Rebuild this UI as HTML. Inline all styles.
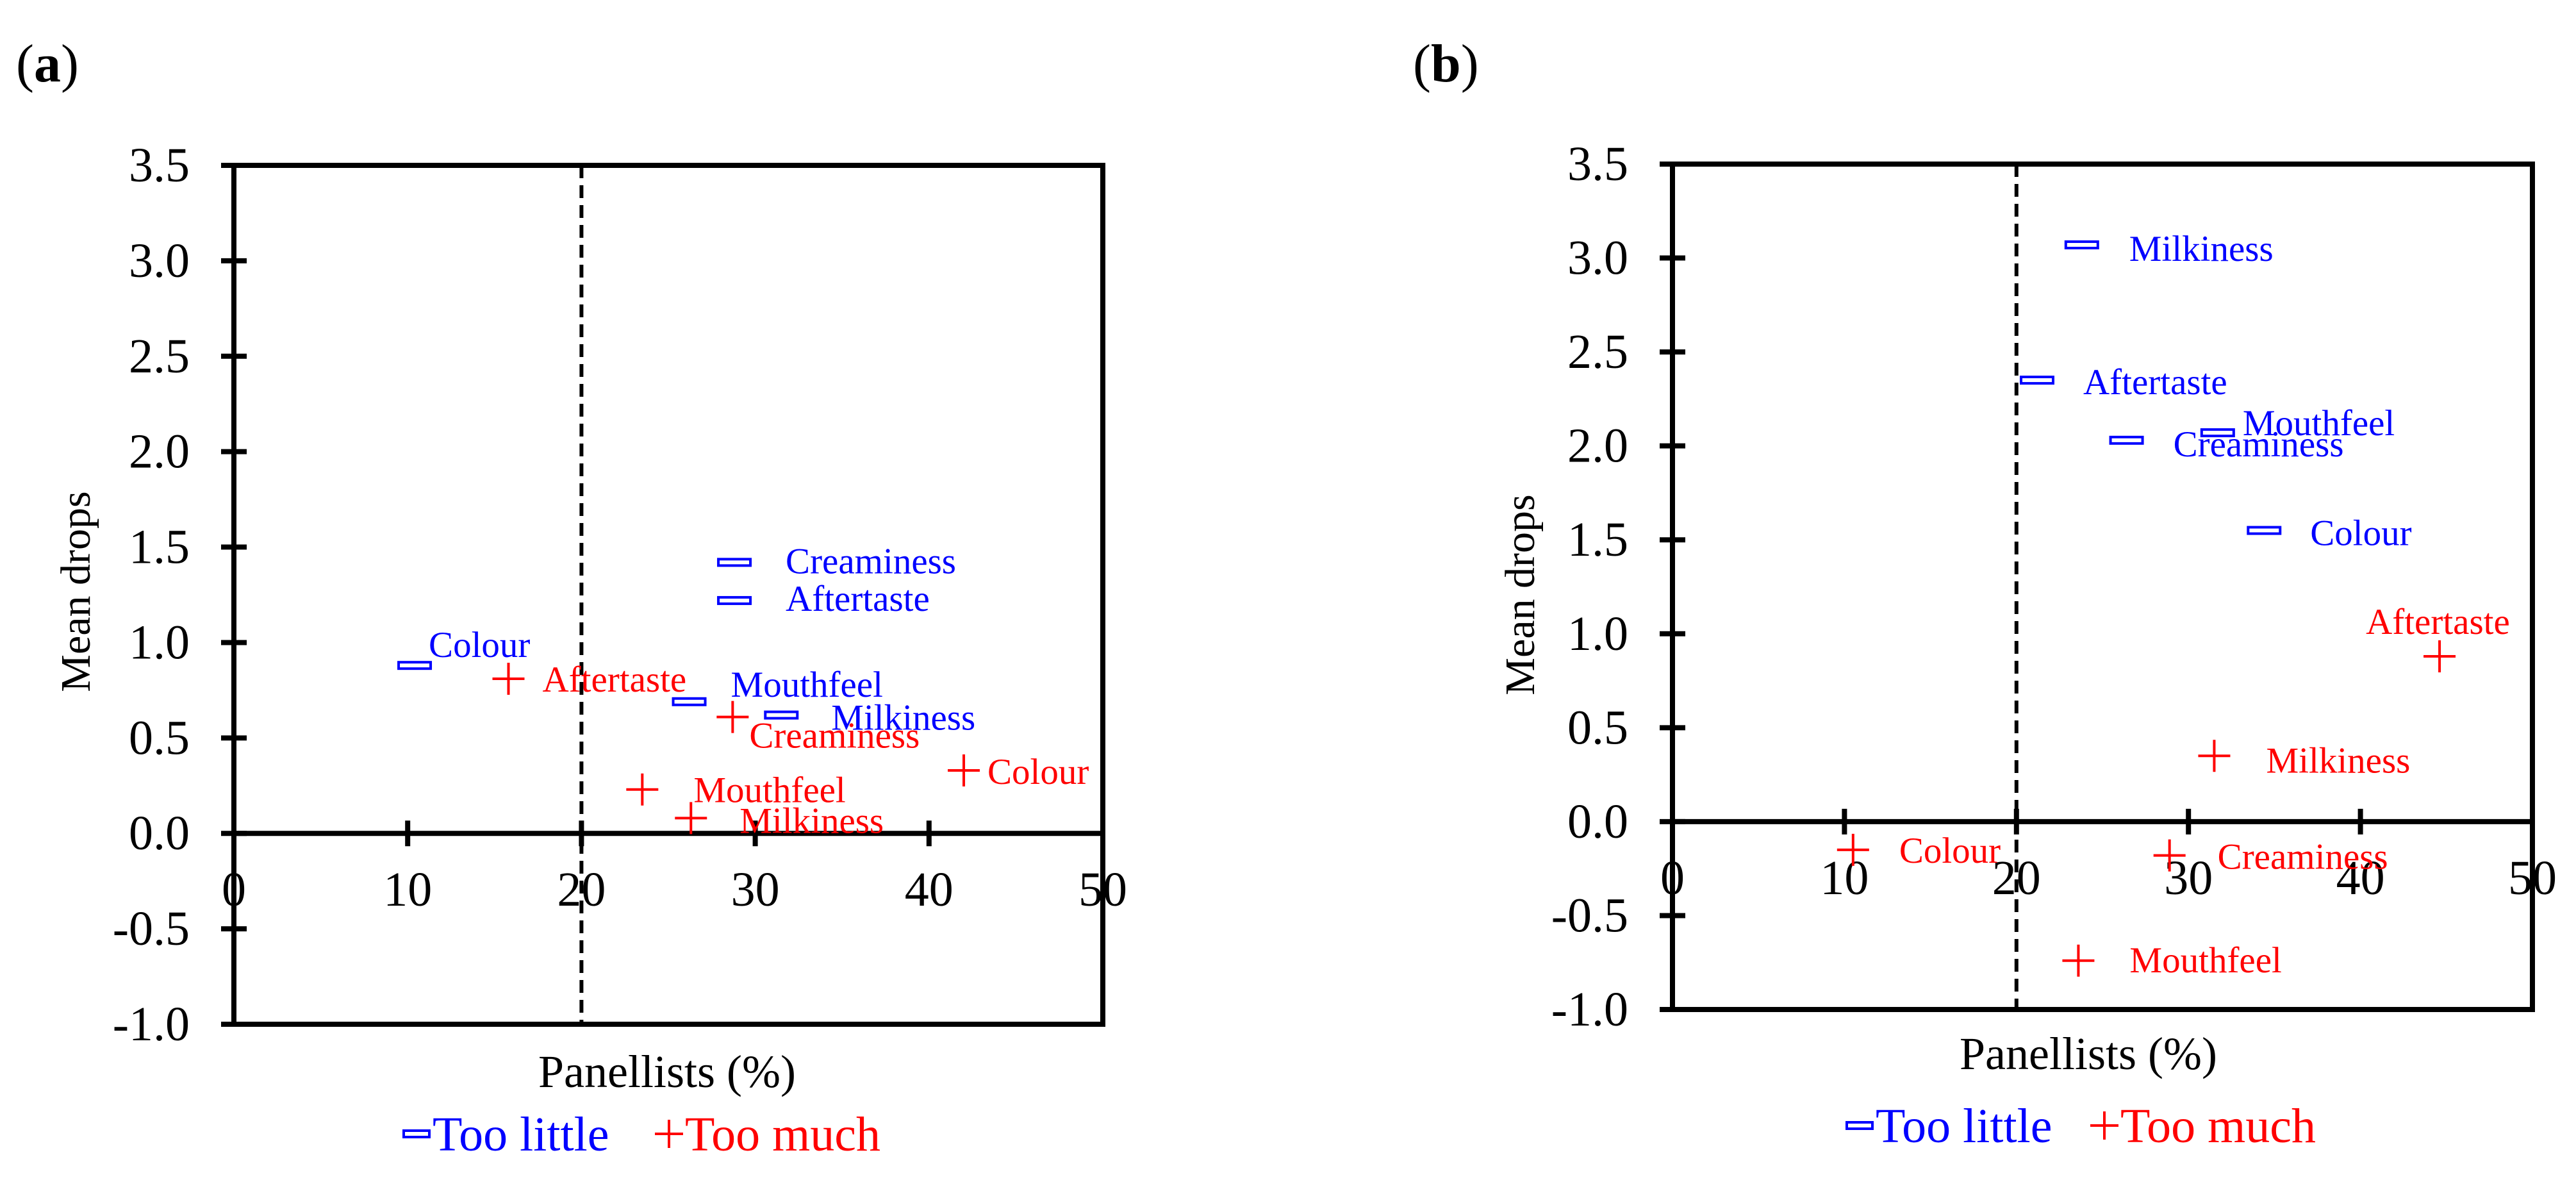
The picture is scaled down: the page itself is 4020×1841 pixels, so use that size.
<!DOCTYPE html>
<html><head><meta charset="utf-8"><style>
html,body{margin:0;padding:0;background:#fff;}
svg, svg text, svg tspan{font-family:"Liberation Serif","Times New Roman",serif !important;}
</style></head><body>
<svg id="fig" width="4020" height="1836" viewBox="0 0 4020 1836" xmlns="http://www.w3.org/2000/svg" font-family="Liberation Serif, serif"></svg>
<script>
const categories = ["Colour","Creaminess","Aftertaste","Mouthfeel","Milkiness"];
// Panel a
const aLittleX = [10.4, 28.8, 28.8, 26.2, 31.5];
const aLittleY = [0.88, 1.42, 1.22, 0.69, 0.62];
const aMuchX = [42.0, 28.7, 15.8, 23.5, 26.3];
const aMuchY = [0.33, 0.61, 0.81, 0.23, 0.08];
// Panel b
const bLittleX = [34.4, 26.4, 21.2, 31.7, 23.8];
const bLittleY = [1.55, 2.03, 2.35, 2.07, 3.07];
const bMuchX = [10.5, 28.9, 44.6, 23.6, 31.5];
const bMuchY = [-0.15, -0.18, 0.88, -0.74, 0.35];
const xTicks = [0,10,20,30,40,50];
const yTicks = [-1.0,-0.5,0.0,0.5,1.0,1.5,2.0,2.5,3.0,3.5];
const xTickLabels = ["0","10","20","30","40","50"];
const yTickLabels = ["-1.0","-0.5","0.0","0.5","1.0","1.5","2.0","2.5","3.0","3.5"];
const threshold = 20;

// label offsets (layout, px) per category
const aLittleOff = [[22,-33],[80,-3],[80,-4],[65,-28],[78,3]];
const aMuchOff = [[37,1],[26,28],[53,0],[80,0],[76,3]];
const bLittleOff = [[72,3],[73,5],[72,2],[39,-16],[74,5]];
const bMuchOff = [[72,0],[75,1],[-115,-55],[80,-2],[81,6]];

const NS="http://www.w3.org/2000/svg";
const svg=document.getElementById('fig');
function el(tag,attrs,parent){const e=document.createElementNS(NS,tag);for(const k in attrs)e.setAttribute(k,attrs[k]);(parent||svg).appendChild(e);return e;}
function txt(s,attrs,parent){attrs['font-family']='Liberation Serif, serif';const e=el('text',attrs,parent);e.textContent=s;return e;}

function panel(cfg){
  const g=el('g',{});
  
  
  const X=v=>cfg.L+(v-0)/50*(cfg.R-cfg.L);
  const Y=v=>cfg.T+(3.5-v)/4.5*(cfg.B-cfg.T);
  const frame=el('rect',{x:cfg.L,y:cfg.T,width:cfg.R-cfg.L,height:cfg.B-cfg.T,fill:'none',stroke:'#000','stroke-width':8},g);
  
  
  const zl=el('line',{x1:cfg.L,x2:cfg.R,y1:Y(0),y2:Y(0),stroke:'#000','stroke-width':8},g);
  
  
  const dl=el('line',{x1:X(threshold),x2:X(threshold),y1:cfg.T,y2:cfg.B,stroke:'#000','stroke-width':6,'stroke-dasharray':'20 11'},g);
  
  
  yTicks.forEach((v,i)=>{
    const t=el('line',{x1:cfg.L-20,x2:cfg.L+20,y1:Y(v),y2:Y(v),stroke:'#000','stroke-width':8},g);
    
    
    const l=txt(yTickLabels[i],{x:cfg.L-69,y:Y(v)+25,'text-anchor':'end','font-size':76},g);
    
    
  });
  xTicks.forEach((v,i)=>{
    if(v>0&&v<50){
      const t=el('line',{x1:X(v),x2:X(v),y1:Y(0)-20,y2:Y(0)+20,stroke:'#000','stroke-width':8},g);
      
      
    }
    const l=txt(xTickLabels[i],{x:X(v),y:Y(0)+113,'text-anchor':'middle','font-size':76},g);
    
    
  });
  cfg.lx.forEach((v,i)=>{
    const cx=X(v),cy=Y(cfg.ly[i]);
    const m=el('rect',{x:cx-25,y:cy-5,width:50,height:10,fill:'none',stroke:'#0000ff','stroke-width':4},g);
    
    
    const l=txt(categories[i],{x:cx+cfg.lo[i][0],y:cy+cfg.lo[i][1]+20,fill:'#0000ff','font-size':57},g);
    
    
  });
  cfg.mx.forEach((v,i)=>{
    const cx=X(v),cy=Y(cfg.my[i]);
    const m=el('path',{d:`M${cx-25} ${cy}H${cx+25}M${cx} ${cy-25}V${cy+25}`,stroke:'#ff0000','stroke-width':4,fill:'none'},g);
    
    
    const l=txt(categories[i],{x:cx+cfg.mo[i][0],y:cy+cfg.mo[i][1]+20,fill:'#ff0000','font-size':57},g);
    
    
  });
  const yt=txt('Mean drops',{x:0,y:0,'text-anchor':'middle','font-size':66,transform:`translate(${cfg.ytx},${cfg.yty}) rotate(-90)`},g);
  
  
  const xt=txt('Panellists (%)',{x:cfg.xtx,y:cfg.xty,'text-anchor':'middle','font-size':72},g);
  
  
  const pl=txt('',{x:cfg.plx,y:127,'font-size':84},g);
  pl.innerHTML='(<tspan font-weight="bold">'+cfg.letter+'</tspan>)';
  
  
  // legend
  const lg=el('g',{},g);
  
  
  const ly=cfg.legY;
  const r=el('rect',{x:cfg.legX,y:ly-5,width:40,height:10,fill:'none',stroke:'#0000ff','stroke-width':4},lg);
  
  
  const t1=txt('Too little',{x:cfg.legX+45,y:ly+26,fill:'#0000ff','font-size':76},lg);
  
  
  const px=cfg.legX2;
  const p=el('path',{d:`M${px-22} ${ly}H${px+22}M${px} ${ly-22}V${ly+22}`,stroke:'#ff0000','stroke-width':4},lg);
  
  
  const t2=txt('Too much',{x:px+25,y:ly+26,fill:'#ff0000','font-size':76},lg);
  
  
}
panel({name:'panel-a',letter:'a',plx:25,L:365,R:1721,T:258,B:1598,lx:aLittleX,ly:aLittleY,mx:aMuchX,my:aMuchY,lo:aLittleOff,mo:aMuchOff,ytx:140,yty:923,xtx:1041,xty:1696,legX:630,legX2:1044,legY:1769});
panel({name:'panel-b',letter:'b',plx:2205,L:2610,R:3952,T:256,B:1575,lx:bLittleX,ly:bLittleY,mx:bMuchX,my:bMuchY,lo:bLittleOff,mo:bMuchOff,ytx:2394,yty:928,xtx:3259,xty:1668,legX:2882,legX2:3284,legY:1756});
</script>
</body></html>
